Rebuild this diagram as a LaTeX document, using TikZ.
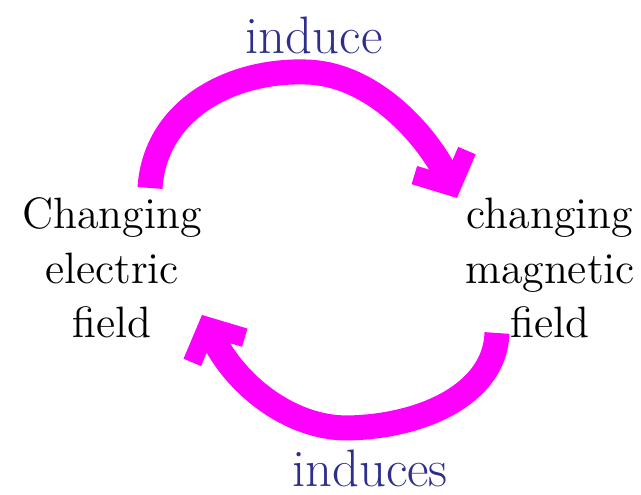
\documentclass[tikz,border=0pt]{standalone}
\usepackage{xcolor,tikz}
\usetikzlibrary{arrows.meta,positioning}
\definecolor{inkblue}{RGB}{46,46,140}
\definecolor{loopmag}{RGB}{255,0,255}
\tikzset{field/.style={align=center,font=\fontsize{12.5}{15.5}\selectfont,inner sep=0pt},
  verb/.style={text=inkblue,font=\fontsize{15}{16}\selectfont,inner sep=0pt},
  magloop/.style={loopmag,line width=2.5mm,-{Straight Barb[length=2.6mm,width=5.8mm,line width=1.9mm]}}}

\begin{document}
\begin{tikzpicture}[x=1cm,y=1cm]
\useasboundingbox (0,0) rectangle (6.41,4.95);
\node[field] (efield) at (1.12,2.27) {Changing\\ electric\\ field};
\node[field] (bfield) at (5.50,2.27) {changing\\ magnetic\\ field};
\node[verb] (top) at (3.14,4.60) {induce};
\node[verb] (bottom) at (3.70,0.27) {induces};
% ends of the two arcs
\coordinate (e1) at (1.50,3.07);
\coordinate (b1) at (4.57,2.97);
\coordinate (b2) at (4.97,1.62);
\coordinate (e2) at (2.02,1.80);
\draw[magloop] (e1) .. controls (1.55,3.85) and (2.30,4.25) .. (3.05,4.23)
  .. controls (3.75,4.22) and (4.30,3.55) .. (b1);
\draw[magloop] (b2) .. controls (4.95,1.00) and (4.20,0.68) .. (3.47,0.67)
  .. controls (2.90,0.67) and (2.35,1.10) .. (e2);
\end{tikzpicture}
\end{document}
